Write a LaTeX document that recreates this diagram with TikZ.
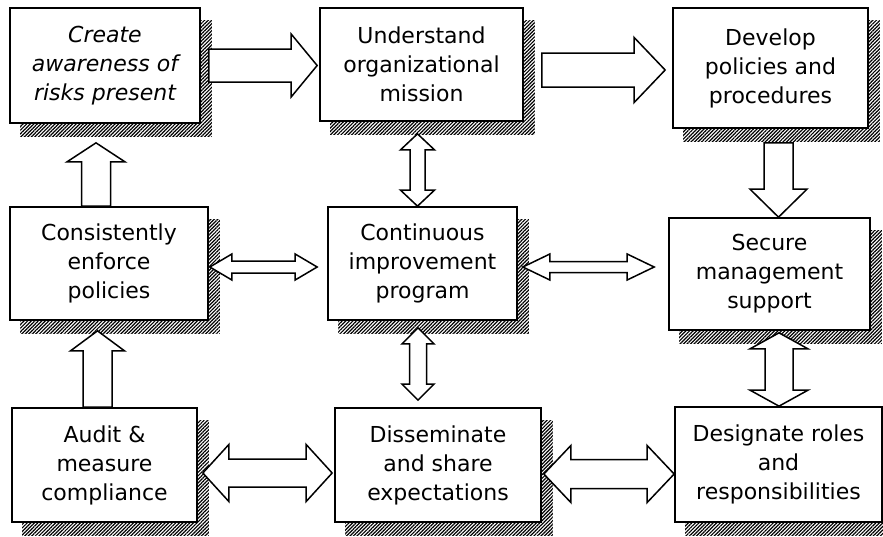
\documentclass[tikz,border=0pt]{standalone}
\usepackage{fontspec}
\setmainfont{DejaVu Sans}
\usetikzlibrary{calc,patterns.meta}
\pgfdeclarelayer{paperlayer}
\pgfdeclarelayer{shadowlayer}
\pgfdeclarelayer{arrowlayer}
\pgfsetlayers{paperlayer,shadowlayer,arrowlayer,main}

\tikzset{
  box/.style={draw, line width=1.7pt, fill=white, inner sep=0pt, align=center,
    font=\fontsize{22}{29}\selectfont},
  hatch/.style={pattern={Lines[angle=45,distance=2.5pt,line width=1.2pt]}},
  arrowbox/.style={draw, fill=white, line width=1.5pt, line join=miter},
}

% hatched drop shadow behind a box
\newcommand\boxshadow[1]{%
  \fill[hatch] ($(#1.north west)+(11,13)$) rectangle ($(#1.south east)+(11,13)$);}

% hollow block arrow: start, tip, shaft half width, head half width, head length
\newcommand\blockarrow[5]{%
  \coordinate (ba-h) at ($(#2)!#5!(#1)$);
  \draw[arrowbox] ($(#1)!#3!90:(#2)$) -- ($(ba-h)!#3!90:(#2)$) -- ($(ba-h)!#4!90:(#2)$)
    -- (#2) -- ($(ba-h)!#4!-90:(#2)$) -- ($(ba-h)!#3!-90:(#2)$) -- ($(#1)!#3!-90:(#2)$) -- cycle;}

% hollow double-headed block arrow: tip, tip, shaft half width, head half width, head length
\newcommand\dblarrow[5]{%
  \coordinate (da-p) at ($(#1)!#5!(#2)$);
  \coordinate (da-q) at ($(#2)!#5!(#1)$);
  \draw[arrowbox] (#1) -- ($(da-p)!#4!90:(#2)$) -- ($(da-p)!#3!90:(#2)$)
    -- ($(da-q)!#3!90:(#2)$) -- ($(da-q)!#4!90:(#2)$) -- (#2)
    -- ($(da-q)!#4!-90:(#2)$) -- ($(da-q)!#3!-90:(#2)$)
    -- ($(da-p)!#3!-90:(#2)$) -- ($(da-p)!#4!-90:(#2)$) -- cycle;}

\begin{document}
\begin{tikzpicture}[x=1pt,y=-1pt]
\useasboundingbox (0,0) rectangle (883,536);
\begin{pgfonlayer}{paperlayer}
  \fill[white] (0,0) rectangle (883,536);
\end{pgfonlayer}

% boxes
\node[box, minimum width=190pt, minimum height=115pt] (create) at (105,65.5)
  {\itshape Create\\\itshape awareness of\\\itshape risks present};
\node[box, minimum width=203pt, minimum height=113pt] (understand) at (421.5,64.5)
  {Understand\\organizational\\mission};
\node[box, minimum width=195pt, minimum height=120pt] (develop) at (770.5,68)
  {Develop\\policies and\\procedures};
\node[box, minimum width=198pt, minimum height=113pt] (consist) at (109,263.5)
  {Consistently\\enforce\\policies};
\node[box, minimum width=189pt, minimum height=113pt] (contin) at (422.5,263.5)
  {Continuous\\improvement\\program};
\node[box, minimum width=201pt, minimum height=112pt] (secure) at (769.5,274)
  {Secure\\management\\support};
\node[box, minimum width=185pt, minimum height=114pt] (audit) at (104.5,465)
  {Audit \&\\measure\\compliance};
\node[box, minimum width=206pt, minimum height=114pt] (dissem) at (438,465)
  {Disseminate\\and share\\expectations};
\node[box, minimum width=207pt, minimum height=115pt] (design) at (778.5,464.5)
  {Designate roles\\and\\responsibilities};

% shadows
\begin{pgfonlayer}{shadowlayer}
  \foreach \b in {create,understand,develop,consist,contin,secure,audit,dissem,design}
    {\boxshadow{\b}}
\end{pgfonlayer}

% arrow end points
\coordinate (a1s) at ($(create.east)+(8,0)$);
\coordinate (a1e) at ($(create.east -| understand.west)+(-2,0)$);
\coordinate (a2s) at ($(understand.east)+(18,5.5)$);
\coordinate (a2e) at ($(understand.east -| develop.west)+(-7,5.5)$);
\coordinate (a3s) at ($(develop.south)+(8,14)$);
\coordinate (a3e) at (a3s |- secure.north);
\coordinate (a4s) at ($(consist.north)+(-13,0)$);
\coordinate (a4e) at ($(a4s |- create.south)+(0,19)$);
\coordinate (a5s) at ($(audit.north)+(-7,0)$);
\coordinate (a5e) at ($(a5s |- consist.south)+(0,10)$);

\coordinate (d1s) at ($(consist.east)+(1,3.5)$);
\coordinate (d1e) at ($(d1s -| contin.west)+(-10,0)$);
\coordinate (d2s) at ($(contin.east)+(5,3.5)$);
\coordinate (d2e) at ($(d2s -| secure.west)+(-14,0)$);
\coordinate (d3s) at ($(understand.south)+(-4,12)$);
\coordinate (d3e) at (d3s |- contin.north);
\coordinate (d4s) at ($(contin.south)+(-4.5,7)$);
\coordinate (d4e) at ($(d4s |- dissem.north)+(0,-7)$);
\coordinate (d5s) at ($(secure.south)+(9.5,2)$);
\coordinate (d5e) at (d5s |- design.north);
\coordinate (d6s) at ($(audit.east)+(5,8)$);
\coordinate (d6e) at ($(d6s -| dissem.west)+(-2,0)$);
\coordinate (d7s) at ($(dissem.east)+(2,9)$);
\coordinate (d7e) at (d7s -| design.west);

% connectors
\begin{pgfonlayer}{arrowlayer}
  \blockarrow{a1s}{a1e}{16.5pt}{31.5pt}{26pt}
  \blockarrow{a2s}{a2e}{17pt}{32.5pt}{31pt}
  \blockarrow{a3s}{a3e}{14.5pt}{28.5pt}{28pt}
  \blockarrow{a4s}{a4e}{14.5pt}{29pt}{19pt}
  \blockarrow{a5s}{a5e}{14.5pt}{27pt}{20pt}
  \dblarrow{d1s}{d1e}{6pt}{13pt}{22pt}
  \dblarrow{d2s}{d2e}{5.5pt}{13pt}{27pt}
  \dblarrow{d3s}{d3e}{7.5pt}{17pt}{16pt}
  \dblarrow{d4s}{d4e}{8.5pt}{16pt}{16pt}
  \dblarrow{d5s}{d5e}{14pt}{29pt}{16pt}
  \dblarrow{d6s}{d6e}{14pt}{28.5pt}{26pt}
  \dblarrow{d7s}{d7e}{14.5pt}{28.5pt}{27pt}
\end{pgfonlayer}
\end{tikzpicture}
\end{document}
